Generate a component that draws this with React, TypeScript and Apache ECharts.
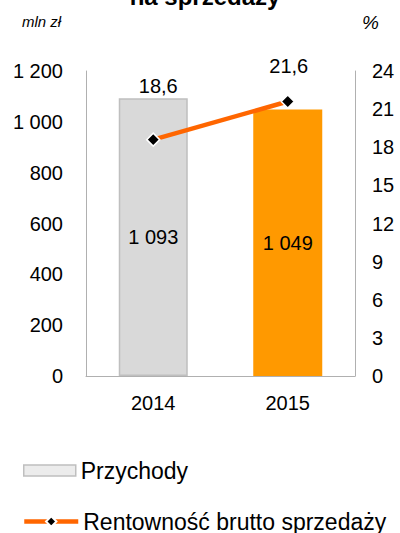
import React, { useEffect, useRef } from "react";
import * as echarts from "echarts";

const categories = ["2014", "2015"];
const revenue = [1093, 1049];
const margin = [18.6, 21.6];
const leftTicks = { min: 0, max: 1200, interval: 200 };
const rightTicks = { min: 0, max: 24, interval: 3 };
const revenueName = "Przychody";
const marginName = "Rentowność brutto sprzedaży";

const FONT = "'Liberation Sans', Arial, sans-serif";
const fmtSpace = (v: number) =>
  String(v).replace(/\B(?=(\d{3})+(?!\d))/g, " ");
const fmtComma = (v: number) => v.toFixed(1).replace(".", ",");

export default function App() {
  const ref = useRef<HTMLDivElement>(null);
  useEffect(() => {
    if (!ref.current) return;
    const chart = echarts.init(ref.current, undefined, { renderer: "svg" });
    const barColors = [
      { color: "#d9d9d9", borderColor: "#bfbfbf", borderWidth: 1.5 },
      { color: "#ff9900", borderColor: "#ff9900", borderWidth: 0 },
    ];
    const lineLabelDist = [36, 18];
    const legendBase = {
      orient: "horizontal",
      left: 18,
      itemWidth: 52,
      itemHeight: 11,
      textStyle: { fontSize: 23, color: "#000", fontFamily: FONT },
    };
    chart.setOption({
      animation: false,
      textStyle: { fontFamily: FONT },
      graphic: [
        {
          type: "text",
          x: 205,
          y: -4,
          style: {
            text: "na sprzedaży",
            font: `bold 24px ${FONT}`,
            fill: "#000",
            align: "center",
            verticalAlign: "middle",
          },
        },
        {
          type: "text",
          x: 22,
          y: 21,
          style: {
            text: "mln zł",
            font: `italic 15px ${FONT}`,
            fill: "#000",
            verticalAlign: "middle",
          },
        },
        {
          type: "text",
          x: 362,
          y: 22,
          style: {
            text: "%",
            font: `italic 19px ${FONT}`,
            fill: "#000",
            verticalAlign: "middle",
          },
        },
      ],
      grid: { left: 86, right: 45, top: 71, bottom: 157 },
      legend: [
        {
          ...legendBase,
          top: 454,
          data: [
            {
              name: revenueName,
              icon: "rect",
              itemStyle: { color: "#ececec", borderColor: "#bfbfbf", borderWidth: 1.5 },
            },
          ],
        },
        {
          ...legendBase,
          left: 17,
          itemWidth: 54,
          itemHeight: 13,
          top: 505,
          data: [
            {
              name: marginName,
              lineStyle: { color: "#ff6600", width: 4.5 },
            },
          ],
        },
      ],
      xAxis: {
        type: "category",
        data: categories,
        axisLine: { show: true, lineStyle: { color: "#b0b0b0", width: 1 } },
        axisTick: { show: false },
        axisLabel: { fontSize: 20, color: "#000", margin: 17 },
      },
      yAxis: [
        {
          type: "value",
          ...leftTicks,
          axisLine: { show: true, lineStyle: { color: "#b0b0b0", width: 1 } },
          axisTick: { show: false },
          splitLine: { show: false },
          axisLabel: {
            fontSize: 20,
            color: "#000",
            margin: 23,
            formatter: (v: number) => fmtSpace(v),
          },
        },
        {
          type: "value",
          position: "right",
          ...rightTicks,
          axisLine: { show: true, lineStyle: { color: "#b0b0b0", width: 1 } },
          axisTick: { show: false },
          splitLine: { show: false },
          axisLabel: { fontSize: 20, color: "#000", margin: 17 },
        },
      ],
      series: [
        {
          name: revenueName,
          type: "bar",
          barWidth: 69,
          itemStyle: { color: "#d9d9d9", borderColor: "#bfbfbf", borderWidth: 1.5 },
          data: revenue.map((v, i) => ({ value: v, itemStyle: barColors[i] })),
          label: {
            show: true,
            position: "inside",
            fontSize: 20,
            color: "#000",
            formatter: (p: any) => fmtSpace(p.value),
          },
          z: 1,
        },
        {
          name: marginName,
          type: "line",
          yAxisIndex: 1,
          symbol: "diamond",
          symbolSize: 13,
          lineStyle: { color: "#ff6600", width: 4.5 },
          itemStyle: { color: "#000", borderColor: "#fff", borderWidth: 1.5 },
          data: margin.map((v, i) => ({
            value: v,
            label: { distance: lineLabelDist[i], offset: [i === 0 ? 5 : 1, 0] },
          })),
          label: {
            show: true,
            position: "top",
            fontSize: 20,
            color: "#000",
            formatter: (p: any) => fmtComma(p.value),
          },
          z: 3,
        },
      ],
    });
    return () => chart.dispose();
  }, []);
  return <div ref={ref} style={{ width: 400, height: 533, position: "absolute", left: 0, top: 0 }} />;
}
